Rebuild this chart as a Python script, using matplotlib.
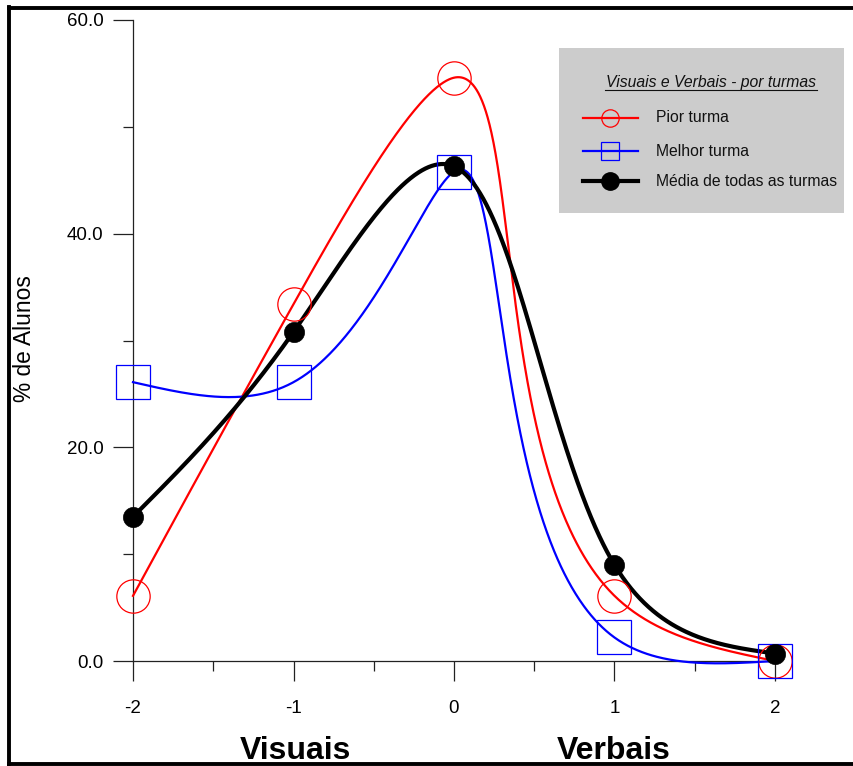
import numpy as np
import matplotlib
matplotlib.use("Agg")
import matplotlib.pyplot as plt
from matplotlib.lines import Line2D
from matplotlib.patches import Rectangle

plt.rcParams['font.family'] = ['Liberation Sans', 'DejaVu Sans']

# ---- data ----
x_vals = [-2, -1, 0, 1, 2]
pior_turma = [6.1, 33.4, 54.6, 6.1, 0.0]
melhor_turma = [26.1, 26.1, 45.8, 2.2, 0.0]
media_turmas = [13.5, 30.8, 46.3, 9.0, 0.7]
y_ticks = [0, 20, 40, 60]
y_tick_labels = ["0.0", "20.0", "40.0", "60.0"]
x_ticks = [-2, -1, 0, 1, 2]
x_tick_labels = ["-2", "-1", "0", "1", "2"]
series_names = ["Pior turma", "Melhor turma", "Média de todas as turmas"]
legend_title = "Visuais e Verbais - por turmas"


def natural_spline(t, y):
    t = np.asarray(t, float)
    y = np.asarray(y, float)
    k = len(t)
    h = np.diff(t)
    A = np.zeros((k, k))
    b = np.zeros(k)
    A[0, 0] = 1
    A[-1, -1] = 1
    for i in range(1, k - 1):
        A[i, i - 1] = h[i - 1]
        A[i, i] = 2 * (h[i - 1] + h[i])
        A[i, i + 1] = h[i]
        b[i] = 3 * ((y[i + 1] - y[i]) / h[i] - (y[i] - y[i - 1]) / h[i - 1])
    c = np.linalg.solve(A, b)

    def f(tv):
        out = np.empty(len(tv))
        for j, v in enumerate(tv):
            i = min(max(np.searchsorted(t, v, side='right') - 1, 0), k - 2)
            dx = v - t[i]
            bi = (y[i + 1] - y[i]) / h[i] - h[i] * (2 * c[i] + c[i + 1]) / 3
            di = (c[i + 1] - c[i]) / (3 * h[i])
            out[j] = y[i] + bi * dx + c[i] * dx ** 2 + di * dx ** 3
        return out
    return f


def smooth_curve(ax, x, y, alpha, n=800):
    """Parametric natural cubic spline computed in display (page) space."""
    P = ax.transData.transform(np.column_stack([x, y]))
    d = np.hypot(np.diff(P[:, 0]), np.diff(P[:, 1])) ** alpha
    t = np.concatenate([[0], np.cumsum(d)])
    tt = np.linspace(0, t[-1], n)
    Q = np.column_stack([natural_spline(t, P[:, 0])(tt),
                         natural_spline(t, P[:, 1])(tt)])
    D = ax.transData.inverted().transform(Q)
    return D[:, 0], D[:, 1]


W, H = 854, 766
fig = plt.figure(figsize=(W / 100, H / 100), dpi=100)


def fx(px):
    return px / W


def fy(py):
    return 1 - py / H


ax = fig.add_axes([fx(133), fy(661), fx(775) - fx(133), fy(20) - fy(661)])
ax.set_xlim(-2, 2)
ax.set_ylim(0, 60)

# curves
xs, ys = smooth_curve(ax, x_vals, pior_turma, 1.0)
ax.plot(xs, ys, color='#ff0000', lw=1.6, clip_on=False, zorder=3)
xs, ys = smooth_curve(ax, x_vals, melhor_turma, 1.0)
ax.plot(xs, ys, color='#0000ff', lw=1.6, clip_on=False, zorder=3)
xs, ys = smooth_curve(ax, x_vals, media_turmas, 0.5)
ax.plot(xs, ys, color='black', lw=3.0, clip_on=False, zorder=4)

# markers
ax.plot(x_vals, pior_turma, ls='none', marker='o', ms=24, mfc='none',
        mec='#ff0000', mew=0.9, clip_on=False, zorder=5)
ax.plot(x_vals, melhor_turma, ls='none', marker='s', ms=24, mfc='none',
        mec='#0000ff', mew=0.9, clip_on=False, zorder=5)
ax.plot(x_vals, media_turmas, ls='none', marker='o', ms=14.5, mfc='black',
        mec='black', mew=0.5, clip_on=False, zorder=6)

# axes styling
for s in ['top', 'right']:
    ax.spines[s].set_visible(False)
for s in ['left', 'bottom']:
    ax.spines[s].set_color('#222222')
    ax.spines[s].set_linewidth(0.9)
ax.set_yticks(y_ticks)
ax.set_yticklabels(y_tick_labels)
ax.set_yticks([10, 30, 50], minor=True)
ax.set_xticks(x_ticks)
ax.set_xticklabels(x_tick_labels)
ax.set_xticks([-1.5, -0.5, 0.5, 1.5], minor=True)
ax.tick_params(axis='both', which='major', direction='out', length=14.4,
               width=0.9, color='#222222', labelsize=13.5)
ax.tick_params(axis='both', which='minor', direction='out', length=7.2,
               width=0.9, color='#222222')
ax.tick_params(axis='y', which='major', pad=7)
ax.tick_params(axis='x', which='major', pad=13.5)

# labels
fig.text(fx(25), fy(339), "% de Alunos", rotation=90, ha='center',
         va='center', fontsize=16.4)
fig.text(fx(295), fy(759), "Visuais", ha='center', va='baseline',
         fontsize=23, fontweight='bold')
fig.text(fx(613.5), fy(759), "Verbais", ha='center', va='baseline',
         fontsize=23, fontweight='bold')

# legend (manual)
fig.patches.append(Rectangle((fx(559), fy(213)), fx(844) - fx(559),
                             fy(48) - fy(213), transform=fig.transFigure,
                             facecolor='#cccccc', edgecolor='none', zorder=1))
fig.text(fx(711), fy(83), legend_title, ha='center', va='center',
         fontsize=11.3, style='italic', color='#111111', zorder=3)
fig.lines.append(Line2D([fx(605), fx(817)], [fy(90), fy(90)],
                        transform=fig.transFigure, color='#111111', lw=0.8,
                        zorder=3))
rows = [118, 151, 181]
styles = [
    dict(color='#ff0000', lw=1.6, marker='o', ms=12.5, mfc='none',
         mec='#ff0000', mew=0.9),
    dict(color='#0000ff', lw=1.6, marker='s', ms=13, mfc='none',
         mec='#0000ff', mew=0.9),
    dict(color='black', lw=3.0, marker='o', ms=12.5, mfc='black',
         mec='black'),
]
for name, ry, st in zip(series_names, rows, styles):
    fig.lines.append(Line2D([fx(583), fx(638)], [fy(ry), fy(ry)],
                            transform=fig.transFigure, zorder=3,
                            markevery=[], **st))
    fig.lines.append(Line2D([fx(610.5)], [fy(ry)], transform=fig.transFigure,
                            zorder=4, ls='none',
                            **{k: v for k, v in st.items()
                               if k not in ('lw', 'color')}))
    fig.text(fx(656), fy(ry), name, ha='left', va='center', fontsize=11.3,
             color='#111111', zorder=3)

# outer frame
for xsf, ysf in [([9, 860], [7.5, 7.5]), ([9.5, 9.5], [7, 764]),
                 ([9, 860], [763.5, 763.5])]:
    fig.lines.append(Line2D([fx(v) for v in xsf], [fy(v) for v in ysf],
                            transform=fig.transFigure, color='black',
                            lw=2.8, solid_capstyle='projecting'))

fig.savefig("out.png", dpi=100)
